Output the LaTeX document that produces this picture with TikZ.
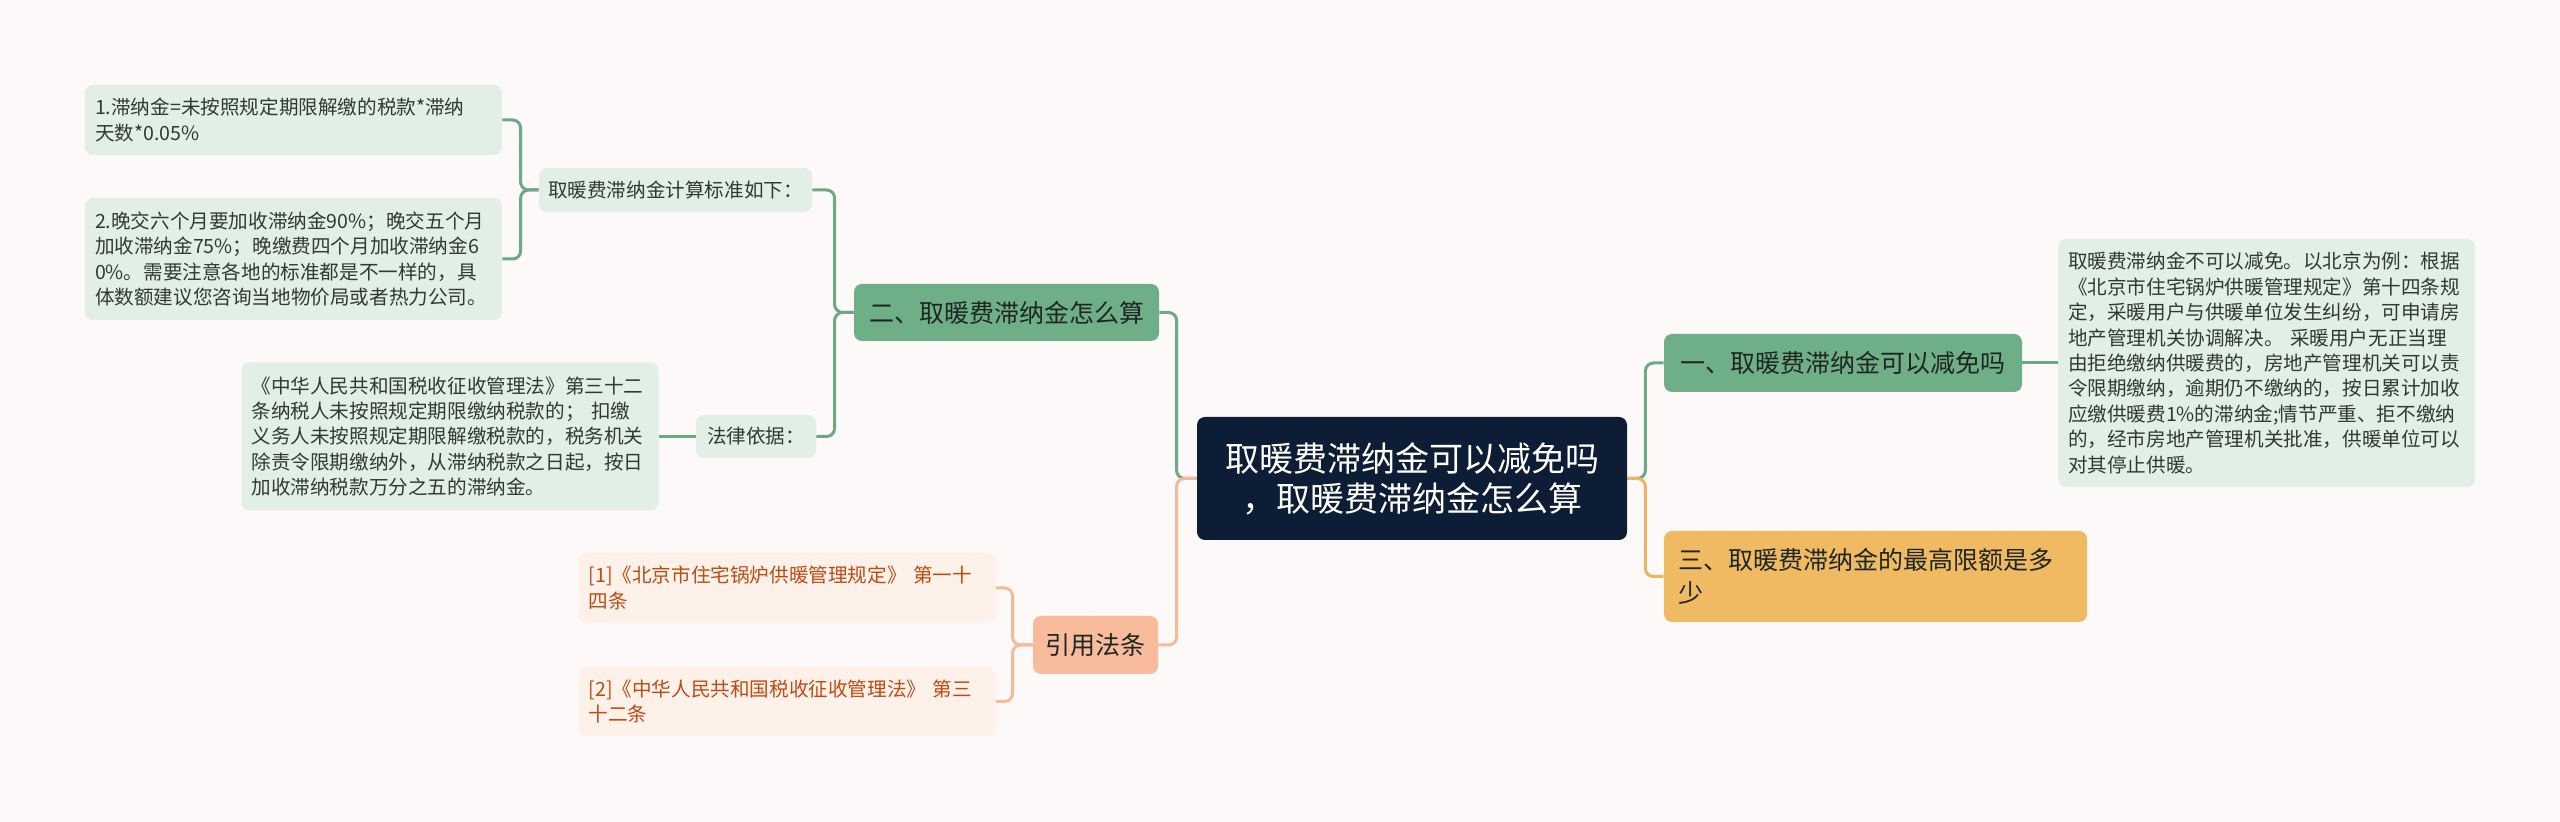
\documentclass[tikz,border=0pt]{standalone}
\usepackage{fontspec}
\setmainfont{Noto Sans CJK SC}

\definecolor{bgcol}{HTML}{FCF9F8}
\definecolor{rootcol}{HTML}{0E1D36}
\definecolor{grncol}{HTML}{6FAF88}
\definecolor{leafcol}{HTML}{E2EFE7}
\definecolor{glinecol}{HTML}{6DA985}
\definecolor{citecol}{HTML}{F8BC9C}
\definecolor{citeleafcol}{HTML}{FDF1EA}
\definecolor{citetext}{HTML}{C04A12}
\definecolor{olinecol}{HTML}{F5BA9A}
\definecolor{yelcol}{HTML}{F0BA62}
\definecolor{ylinecol}{HTML}{EDB65E}
\definecolor{textcol}{HTML}{1E2620}
\definecolor{leaftext}{HTML}{2E3A33}

\begin{document}
\begin{tikzpicture}[x=0.5pt, y=-0.5pt,
		root/.style = {fill=rootcol, text=white, rounded corners=4pt, align=center, text width=200pt, inner xsep=7.5pt, inner ysep=0pt, minimum height=61.5pt, font=\fontsize{17}{20}\selectfont},
		branch/.style = {rounded corners=4pt, inner sep=0pt, text=textcol, font=\fontsize{12.5}{16.5}\selectfont},
		mid/.style = {fill=leafcol, rounded corners=4pt, inner sep=0pt, text=leaftext, font=\fontsize{9.8}{12.7}\selectfont},
		leaf/.style = {fill=leafcol, rounded corners=4pt, inner xsep=5pt, inner ysep=0pt, align=left, text width=198.5pt, text=leaftext, font=\fontsize{9.8}{12.7}\selectfont},
		citeleaf/.style = {leaf, fill=citeleafcol, text=citetext},
		gline/.style = {draw=glinecol, line width=1.5pt, rounded corners=4pt},
		oline/.style = {gline, draw=olinecol},
		yline/.style = {gline, draw=ylinecol}]
		% tausta
		\fill[bgcol] (0,0) rectangle (2560,822);
		% solmut
		\node[root] (root) at (1412,478.5) {取暖费滞纳金可以减免吗\\，取暖费滞纳金怎么算};
		\node[branch, fill=grncol, minimum width=152.5pt, minimum height=28.5pt] (two) at (1006.5,312.5) {二、取暖费滞纳金怎么算};
		\node[mid, minimum width=136.5pt, minimum height=22pt] (calc) at (675.5,190) {取暖费滞纳金计算标准如下：};
		\node[leaf, minimum height=35pt] (leafa) at (293.5,120) {1.滞纳金=未按照规定期限解缴的税款*滞纳\\天数*0.05\%};
		\node[leaf, minimum height=61pt] (leafb) at (293.5,259) {2.晚交六个月要加收滞纳金90\%；晚交五个月\\加收滞纳金75\%；晚缴费四个月加收滞纳金6\\0\%。需要注意各地的标准都是不一样的，具\\体数额建议您咨询当地物价局或者热力公司。};
		\node[mid, minimum width=60pt, minimum height=21.5pt] (law) at (756,436.5) {法律依据：};
		\node[leaf, minimum height=74pt] (lawleaf) at (450,436.5) {《中华人民共和国税收征收管理法》第三十二\\条纳税人未按照规定期限缴纳税款的； 扣缴\\义务人未按照规定期限解缴税款的，税务机关\\除责令限期缴纳外，从滞纳税款之日起，按日\\加收滞纳税款万分之五的滞纳金。};
		\node[branch, fill=citecol, minimum width=62.5pt, minimum height=29pt] (cite) at (1095.5,645) {引用法条};
		\node[citeleaf, minimum height=35pt] (citea) at (787,588) {[1]《北京市住宅锅炉供暖管理规定》 第一十\\四条};
		\node[citeleaf, minimum height=34.5pt] (citeb) at (787,701.5) {[2]《中华人民共和国税收征收管理法》 第三\\十二条};
		\node[branch, fill=grncol, minimum width=179pt, minimum height=29pt] (one) at (1843,363) {一、取暖费滞纳金可以减免吗};
		\node[leaf, minimum height=124pt] (oneleaf) at (2266.5,363) {取暖费滞纳金不可以减免。以北京为例：根据\\《北京市住宅锅炉供暖管理规定》第十四条规\\定，采暖用户与供暖单位发生纠纷，可申请房\\地产管理机关协调解决。 采暖用户无正当理\\由拒绝缴纳供暖费的，房地产管理机关可以责\\令限期缴纳，逾期仍不缴纳的，按日累计加收\\应缴供暖费1\%的滞纳金;情节严重、拒不缴纳\\的，经市房地产管理机关批准，供暖单位可以\\对其停止供暖。};
		\node[branch, fill=yelcol, align=left, text width=197.5pt, inner xsep=7pt, minimum height=45.5pt] (three) at (1875.5,576.5) {三、取暖费滞纳金的最高限额是多\\少};
		% viivat
		\draw[gline] (root.west) -- ++(-20,0) |- (two.east);
		\draw[oline] (root.west) -- ++(-20,0) |- (cite.east);
		\draw[gline] (root.east) -- ++(18,0) |- (one.west);
		\draw[yline] (root.east) -- ++(18,0) |- (three.west);
		\draw[gline] (two.west) -- ++(-19,0) |- (calc.east);
		\draw[gline] (two.west) -- ++(-19,0) |- (law.east);
		\draw[gline] (calc.west) -- ++(-18,0) |- (leafa.east);
		\draw[gline] (calc.west) -- ++(-18,0) |- (leafb.east);
		\draw[gline] (law.west) -- (lawleaf.east);
		\draw[oline] (cite.west) -- ++(-20,0) |- (citea.east);
		\draw[oline] (cite.west) -- ++(-20,0) |- (citeb.east);
		\draw[gline] (one.east) -- (oneleaf.west);
\end{tikzpicture}
\end{document}
